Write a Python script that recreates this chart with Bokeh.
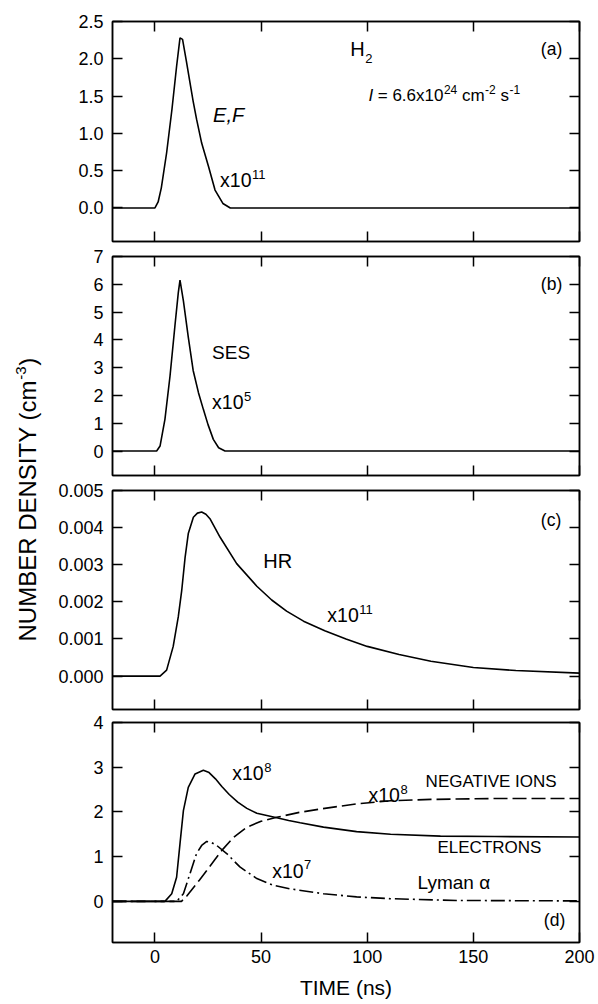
import math
from bokeh.plotting import figure
from bokeh.models import Range1d, FixedTicker, LinearAxis, Label, PrintfTickFormatter
from bokeh.layouts import row, column
from bokeh.embed import file_html
from bokeh.resources import INLINE
from bokeh.core.properties import value

# ---------------- data ----------------
x_ticks = [0, 50, 100, 150, 200]

# (a) E,F state  (x1e11)
time_ef = [-20, 0, 1.5, 3, 5.5, 8, 10.2, 11.8, 13, 14.8, 16.5, 18, 19.6, 22, 25.2, 28.3, 32, 35.5, 200]
dens_ef = [0, 0, 0.08, 0.27, 0.74, 1.32, 1.9, 2.28, 2.26, 1.97, 1.68, 1.43, 1.19, 0.87, 0.56, 0.24,
           0.06, 0, 0]
ticks_a = [0, 0.5, 1.0, 1.5, 2.0, 2.5]

# (b) SES (x1e5)
time_ses = [-20, 0.8, 2.4, 4.7, 7.1, 9.4, 11, 11.8, 13.4, 15.7, 18, 20.5, 22.8, 25, 27.5, 30, 33, 200]
dens_ses = [0, 0, 0.18, 1.14, 2.7, 4.5, 5.7, 6.15, 5.4, 4.1, 2.9, 2.1, 1.5, 0.95, 0.42, 0.12, 0, 0]
ticks_b = [0, 1, 2, 3, 4, 5, 6, 7]

# (c) HR (x1e11)
time_hr = [-20, 2.4, 5.5, 8.6, 11, 12.6, 14.2, 15.7, 18.1, 20, 22, 24, 25.9, 30.7, 38.5, 48, 55,
           62, 70, 80, 90, 100, 115, 130, 150, 170, 200]
dens_hr = [0, 0, 0.00016, 0.0008, 0.0016, 0.0023, 0.0032, 0.00384, 0.00428, 0.00439, 0.00442,
           0.00436, 0.00424, 0.00374, 0.00303, 0.00242, 0.00205, 0.00175, 0.00148, 0.00122,
           0.001, 0.0008, 0.00058, 0.0004, 0.00023, 0.00015, 0.00008]
ticks_c = [0, 0.001, 0.002, 0.003, 0.004, 0.005]

# (d) electrons (x1e8), negative ions (x1e8), Lyman alpha (x1e7)
time_el = [-20, 4.7, 7.9, 10.2, 11.8, 13.4, 15.7, 18.9, 22.8, 25.5, 28.5, 31.5, 35, 39, 43.3, 48,
           52.7, 57.4, 63, 68.4, 79.4, 95, 111, 134.5, 160, 200]
dens_el = [0, 0, 0.17, 0.54, 1.29, 2.03, 2.55, 2.85, 2.93, 2.88, 2.74, 2.57, 2.39, 2.22, 2.08, 1.97,
           1.92, 1.87, 1.81, 1.76, 1.66, 1.56, 1.5, 1.46, 1.45, 1.44]
time_ni = [-20, 12.5, 15, 18, 21, 24.4, 28, 31.5, 37, 43.3, 50, 57.4, 68, 80, 95, 111, 130, 160, 200]
dens_ni = [0, 0, 0.12, 0.3, 0.48, 0.69, 0.92, 1.14, 1.43, 1.66, 1.79, 1.88, 1.99, 2.08, 2.18,
           2.25, 2.28, 2.3, 2.3]
time_ly = [-20, 10.2, 13.4, 16.5, 19.6, 22, 24.4, 26.5, 29.1, 33.8, 40, 48, 55.8, 63.7, 79.4,
           95, 111, 142, 200]
dens_ly = [0, 0, 0.17, 0.62, 1.07, 1.25, 1.34, 1.32, 1.25, 1.07, 0.77, 0.51, 0.36, 0.28, 0.17,
           0.1, 0.06, 0.02, 0.01]
ticks_d = [0, 1, 2, 3, 4]

# ---------------- styling helpers ----------------
FONT = "Liberation Sans"
XR = (-20, 200)
LW = 1.6

AW = {' ': 278, '=': 584, '.': 278, ',': 278, '-': 333, '(': 333, ')': 333,
      'A': 667, 'B': 667, 'C': 722, 'D': 722, 'E': 667, 'F': 611, 'G': 778, 'H': 722,
      'I': 278, 'L': 556, 'M': 833, 'N': 722, 'O': 778, 'R': 722, 'S': 667, 'T': 611,
      'U': 722, 'V': 667, 'Y': 667, 'a': 556, 'c': 500, 'e': 556, 'm': 833, 'n': 556,
      's': 500, 'x': 500, 'y': 500}


def tw(s, size):
    return sum(AW.get(ch, 556) for ch in s) * size / 1000.0


def style_axis(ax, ticks, fmt=None, show=True, size="18px"):
    ax.ticker = FixedTicker(ticks=ticks)
    if fmt:
        ax.formatter = PrintfTickFormatter(format=fmt)
    ax.major_tick_in = 10
    ax.major_tick_out = 0
    ax.minor_tick_line_color = None
    ax.major_tick_line_width = 1.5
    ax.major_tick_line_color = "black"
    ax.axis_line_width = 1.5
    ax.axis_line_color = "black"
    ax.major_label_text_font = FONT
    ax.major_label_text_color = "black"
    if show:
        ax.major_label_text_font_size = size
    else:
        ax.major_label_text_font_size = "0px"
        ax.major_label_text_color = None
        ax.major_label_standoff = 0


def panel(height, top, bottom, yr, yticks, fmt, xlabels=False):
    p = figure(width=553, height=height, x_range=Range1d(*XR), y_range=Range1d(*yr),
               output_backend="svg", toolbar_location=None,
               min_border_left=67, min_border_right=19, min_border_top=top,
               min_border_bottom=bottom, background_fill_color="white",
               border_fill_color="white")
    p.grid.visible = False
    p.outline_line_color = "black"
    p.outline_line_width = 1.5
    style_axis(p.left[0], yticks, fmt, True)
    p.left[0].major_label_standoff = 9
    style_axis(p.below[0], x_ticks, "%d", xlabels)
    if xlabels:
        p.below[0].major_label_standoff = 7
    r = LinearAxis()
    style_axis(r, yticks, None, False)
    p.add_layout(r, "right")
    a = LinearAxis()
    style_axis(a, x_ticks, None, False)
    p.add_layout(a, "above")
    return p


def lab(p, x, y, text, size=19, style="normal", dx=0, dy=0):
    p.add_layout(Label(x=x, y=y, text=text, text_font=FONT, text_font_size=f"{size}px",
                       text_font_style=style, x_offset=dx, y_offset=dy,
                       text_align="left", text_baseline="middle", text_color="black"))


def sup(p, x, y, base, exp, size=19.5, esize=13, rise=6):
    lab(p, x, y, base, size)
    lab(p, x, y, exp, esize, dx=tw(base, size) + 0.5, dy=rise)


# ---------------- panels ----------------
pa = panel(246, 21, 5, (-0.45, 2.5), ticks_a, "%.1f")
pa.line(time_ef, dens_ef, line_color="black", line_width=LW)
lab(pa, 27.4, 1.24, "E,F", 20, "italic")
sup(pa, 30.7, 0.37, "x10", "11")
lab(pa, 92, 2.13, "H", 20)
lab(pa, 92, 2.13, "2", 13, dx=tw("H", 20) + 0.5, dy=-9)
# I = 6.6x10^24 cm^-2 s^-1  (pieces; gaps are explicit widths, no leading blanks)
pieces = [("I", 17, "italic", 0, 4.5), ("= 6.6x10", 17, "normal", 0, 0.5),
          ("24", 12, "normal", 6, 4.7), ("cm", 17, "normal", 0, 0.5),
          ("-2", 12, "normal", 6, 4.7), ("s", 17, "normal", 0, 0.5),
          ("-1", 12, "normal", 6, 0)]
off = 0
for txt, sz, st, rz, gap in pieces:
    lab(pa, 100.6, 1.51, txt, sz, st, dx=off, dy=rz)
    off += tw(txt, sz) + gap
lab(pa, 181.8, 2.13, "(a)", 17.5)

pb = panel(233, 10, 4, (-0.88, 7), ticks_b, "%d")
pb.line(time_ses, dens_ses, line_color="black", line_width=LW)
lab(pb, 26.9, 3.53, "SES", 19)
sup(pb, 26.9, 1.75, "x10", "5")
lab(pb, 181.8, 6.0, "(b)", 17.5)

pc = panel(233, 11, 3, (-0.0009, 0.005), ticks_c, "%.3f")
pc.line(time_hr, dens_hr, line_color="black", line_width=LW)
lab(pc, 51, 0.0031, "HR", 20)
sup(pc, 81.2, 0.00164, "x10", "11")
lab(pc, 181.8, 0.0042, "(c)", 17.5)

pd = panel(291, 10, 61, (-0.92, 4), ticks_d, "%d", xlabels=True)
pd.line(time_el, dens_el, line_color="black", line_width=LW)
pd.line(time_ni, dens_ni, line_color="black", line_width=LW, line_dash="14 5")
pd.line(time_ly, dens_ly, line_color="black", line_width=LW, line_dash="14 4 2 4")
xa = pd.below[0]
xa.axis_label = "TIME (ns)"
xa.axis_label_text_font = FONT
xa.axis_label_text_font_size = "21px"
xa.axis_label_text_font_style = "normal"
xa.axis_label_text_color = "black"
xa.axis_label_standoff = 10
sup(pd, 36.4, 2.86, "x10", "8")
sup(pd, 100.6, 2.37, "x10", "8")
lab(pd, 127.5, 2.68, "NEGATIVE IONS", 17)
lab(pd, 133.1, 1.2, "ELECTRONS", 17)
lab(pd, 123.7, 0.42, "Lyman \u03b1", 19)
sup(pd, 55.2, 0.69, "x10", "7")
lab(pd, 183.2, -0.42, "(d)", 17.5)

# ---------------- shared y-axis title ----------------
H = 246 + 233 + 233 + 291
yl = figure(width=45, height=H, x_range=Range1d(0, 45), y_range=Range1d(H, 0),
            output_backend="svg", toolbar_location=None, min_border=0,
            x_axis_location=None, y_axis_location=None)
yl.outline_line_color = None
yl.grid.visible = False
ystart = 641
main = "NUMBER DENSITY (cm"
s1 = 24
w1 = tw(main, s1)
w2 = tw("-3", 15)
yl.text(x=[27], y=[ystart], text=[main], angle=math.pi / 2, text_font=value(FONT),
        text_font_size=f"{s1}px", text_align="left", text_baseline="middle", text_color="black")
yl.text(x=[20], y=[ystart - w1 - 0.5], text=["-3"], angle=math.pi / 2, text_font=value(FONT),
        text_font_size="15px", text_align="left", text_baseline="middle", text_color="black")
yl.text(x=[27], y=[ystart - w1 - w2 - 1], text=[")"], angle=math.pi / 2, text_font=value(FONT),
        text_font_size=f"{s1}px", text_align="left", text_baseline="middle", text_color="black")

layout = row(yl, column(pa, pb, pc, pd, spacing=0), spacing=0)
open("out.html", "w").write(file_html(layout, INLINE))
